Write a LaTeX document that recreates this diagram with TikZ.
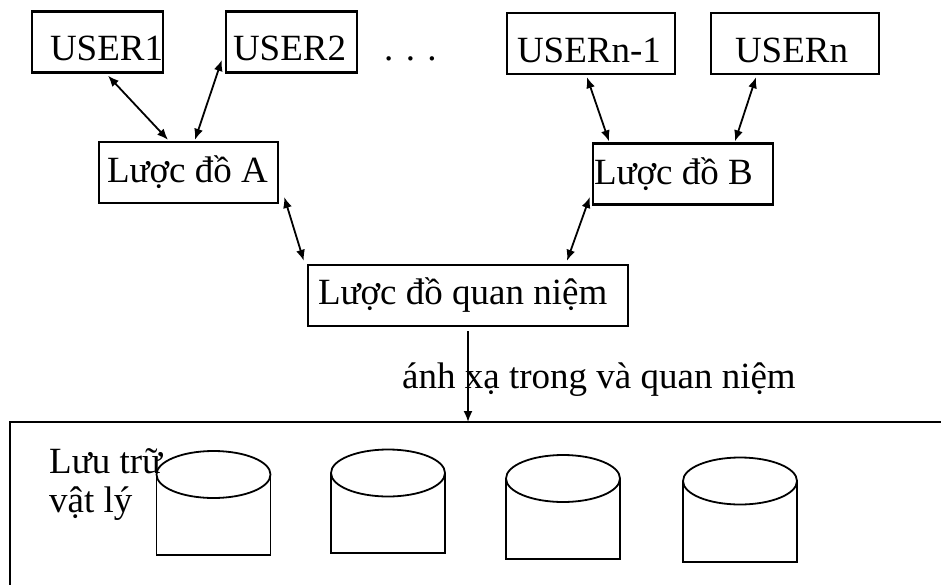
\documentclass[tikz,border=0pt]{standalone}
\usepackage{fontspec}
\setmainfont{Liberation Serif}
\usetikzlibrary{arrows.meta}

\begin{document}
\begin{tikzpicture}[x=1pt, y=-1pt, font=\fontsize{37}{39}\selectfont,
    box/.style 2 args={draw, line width=2.4pt, minimum height=61pt, text width=#1, inner xsep=#2, inner ysep=0pt, align=flush left},
    usertext/.style={text height=38pt, text depth=0pt},
    link/.style={line width=1.8pt, {Latex[length=11pt,width=9pt]}-{Latex[length=11pt,width=9pt]}},
    map/.style={line width=1.8pt, -{Latex[length=11pt,width=9pt]}},
    disk/.style={line width=1.8pt}]
  \useasboundingbox (0,0) rectangle (941,585);
  \node[box={95pt}{18pt}, usertext] (user1) at (97.5,42) {USER1};
  \node[box={117pt}{7pt}, usertext] (user2) at (291.5,42) {USER2};
  \node[anchor=base west, inner sep=0pt] (dots) at (384,61) {. . .};
  \node[box={148pt}{10pt}, usertext] (userNm1) at (591,43.5) {USERn-1};
  \node[box={120pt}{24pt}, usertext] (userN) at (795,43.5) {USERn};
  \node[box={163pt}{8pt}] (schemaA) at (188.5,172.5) {Lược đồ A};
  \node[box={178pt}{1pt}] (schemaB) at (683,174) {Lược đồ B};
  \node[box={300pt}{10pt}] (concept) at (468,295.5) {Lược đồ quan niệm};
  \draw[link] ([xshift=10.5pt,yshift=-2pt]user1.south) -- ([xshift=-20.5pt,yshift=1pt]schemaA.north);
  \draw[link] ([xshift=-3pt,yshift=-18pt]user2.west) -- ([xshift=6.5pt,yshift=1pt]schemaA.north);
  \draw[link] ([xshift=-4pt,yshift=-2pt]userNm1.south) -- ([xshift=-74pt,yshift=1pt]schemaB.north);
  \draw[link] ([xshift=-39pt,yshift=-2pt]userN.south) -- ([xshift=52pt,yshift=1pt]schemaB.north);
  \draw[link] ([xshift=5pt,yshift=-24.5pt]schemaA.east) -- ([xshift=-3pt,yshift=3pt]concept.north west);
  \draw[link] ([xshift=-2pt,yshift=-23pt]schemaB.west) -- ([xshift=99pt,yshift=3pt]concept.north);
  \coordinate (frameNE) at (941,422);
  \coordinate (frameNW) at (10,422);
  \coordinate (frameSW) at (10,585);
  \draw[line width=2.6pt] (frameNE) -- (frameNW) -- (frameSW);
  \draw[map] ([yshift=-4pt]concept.south) -- (concept.south |- frameNW);
  \node[anchor=base west, inner sep=0pt] (maplabel) at (402,388) {ánh xạ trong và quan niệm};
  \node[anchor=base west, inner sep=0pt, align=left] (storage) at (49,512) {Lưu trữ\\vật lý};
  \foreach \cx/\cy/\by in {213.5/474.5/555, 388/473/553, 563/478.5/559, 740/481/562}{
    \draw[disk] (\cx,\cy) ellipse (57 and 23.5);
    \draw[disk] (\cx-57,\cy) -- (\cx-57,\by) -- (\cx+57,\by) -- (\cx+57,\cy);
  }
\end{tikzpicture}
\end{document}
